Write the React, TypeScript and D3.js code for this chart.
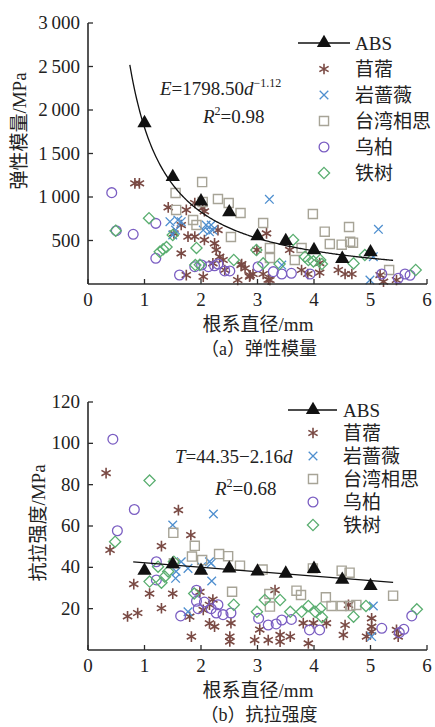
import React from "react";
import * as d3 from "d3";

// ticks / labels
const xTicks = [0, 1, 2, 3, 4, 5, 6];
const yTicksA = [500, 1000, 1500, 2000, 2500, 3000];
const yTicksB = [20, 40, 60, 80, 100, 120];
const legendNames = ["ABS", "苜蓿", "岩蔷薇", "台湾相思", "乌柏", "铁树"];

// (a) 弹性模量  [直径 mm, MPa]
const absA = [[1, 1850], [1.5, 1230], [2, 950], [2.5, 825], [3, 550], [3.5, 495], [4, 390], [4.5, 290], [5, 365]];
const muxuA = [[0.83, 1157], [0.91, 1157], [1.42, 881], [1.74, 851], [1.89, 931], [2.03, 874], [2.06, 836], [1.65, 678], [1.52, 582], [1.77, 544], [1.89, 544], [2.3, 620], [2.24, 467], [2.06, 506], [2.27, 391], [2.33, 314], [2.39, 276], [1.65, 352], [1.74, 103], [2.04, 84], [2.21, 237], [2.42, 161], [2.71, 218], [2.65, 46], [2.86, 84], [3.16, 582], [3.57, 391], [2.99, 391], [2.92, 115], [3.1, 115], [3.22, 46], [3.78, 161], [3.89, 115], [4.1, 241], [4.1, 130], [4.43, 161], [4.55, 115], [4.67, 115], [5.17, 103], [5.23, 27], [5.46, 46], [2.72, 230], [2.78, 180], [2.87, 100], [3.19, 50]];
const yanA = [[3.21, 973], [5.14, 628], [5.05, 314], [4.99, 46], [3.43, 218], [1.45, 716], [1.59, 735], [1.65, 716], [1.55, 620], [1.5, 563], [2.04, 620], [2.09, 678], [2.18, 678], [2.21, 620], [2.15, 600]];
const taiwanA = [[1.55, 1046], [1.56, 851], [2.02, 1172], [2.03, 942], [2.3, 977], [2.49, 931], [2.7, 816], [1.86, 736], [1.92, 678], [2.53, 540], [3.1, 701], [3.22, 414], [3.22, 299], [3.66, 276], [3.78, 414], [3.98, 805], [4.19, 601], [4.62, 655], [4.28, 460], [4.49, 452], [4.64, 486], [4.69, 475], [5.33, 161]];
const wujiuA = [[0.42, 1050], [0.5, 613], [0.8, 571], [1.2, 697], [1.2, 295], [1.62, 103], [1.89, 199], [2.01, 218], [2.13, 199], [2.24, 210], [2.3, 230], [2.42, 150], [2.51, 150], [3.01, 199], [3.28, 142], [3.43, 115], [3.6, 123], [3.93, 115], [5.2, 115], [5.49, 65], [5.61, 115], [5.7, 100]];
const tieshuA = [[0.49, 613], [1.08, 756], [1.27, 370], [1.33, 400], [1.39, 425], [1.5, 563], [1.92, 414], [1.9, 218], [1.98, 220], [2.58, 276], [2.98, 390], [3.1, 237], [3.39, 230], [3.63, 506], [3.84, 314], [3.9, 276], [3.99, 260], [4.11, 276], [4.14, 230], [4.7, 237], [4.9, 333], [5.8, 161]];

// (b) 抗拉强度
const absB = [[1, 38.4], [1.5, 41.5], [2, 38.4], [2.5, 39.5], [3, 38], [3.5, 37], [4, 39.3], [4.5, 34], [5, 31]];
const muxuB = [[0.32, 85.6], [0.39, 48.4], [1.6, 67.7], [1.82, 55.6], [1.3, 50.3], [0.81, 31.9], [1.09, 27.3], [1.5, 27.3], [1.3, 20.2], [0.7, 16.3], [0.88, 17.9], [1.83, 6.5], [1.8, 16.1], [1.98, 28.1], [2.04, 19.4], [2.15, 21.9], [2.21, 24.4], [2.15, 12.9], [2.24, 11.3], [2.53, 13], [2.51, 6.5], [2.51, 4.1], [3.31, 29], [3.04, 9.9], [2.95, 4.8], [3.19, 4.8], [3.4, 7.3], [3.4, 4.0], [3.58, 6.5], [3.9, 3.2], [3.81, 13], [3.99, 13], [4.22, 13], [4.55, 12.1], [4.52, 7.3], [4.61, 21.8], [5.02, 15.3], [5.02, 11.3], [5.02, 8.9], [4.93, 6.5], [5.46, 9.7], [5.49, 6.5]];
const yanB = [[1.5, 60.5], [2.22, 65.8], [1.65, 42.7], [1.77, 39.5], [1.56, 38], [1.55, 34.7], [2.01, 40.3], [2.15, 42.7], [2.18, 42], [2.19, 33.4], [1.77, 18.5], [5.05, 21.3], [5.02, 6.5]];
const taiwanB = [[1.51, 56.7], [1.52, 42], [1.89, 50.4], [1.84, 45.2], [2.02, 43.5], [2.32, 46.4], [2.48, 45.4], [2.69, 40.8], [2.55, 28.2], [3.09, 38.9], [3.98, 39.5], [4.49, 38.4], [4.63, 37.4], [5.4, 26.3], [3.69, 28.7], [3.77, 26.6], [3.21, 27.1], [3.22, 21], [4.21, 25.5], [4.31, 21.3], [4.49, 21.3], [4.64, 21.3], [4.75, 21.8]];
const wujiuB = [[0.44, 102], [0.82, 68], [0.52, 57.7], [1.21, 42.7], [1.21, 33.9], [1.64, 16.5], [1.92, 28.9], [1.92, 23.6], [1.95, 20], [2.06, 23.2], [2.18, 20], [2.3, 21.9], [2.27, 17.9], [2.39, 17.1], [2.53, 17.9], [3.02, 15.3], [3.19, 12.1], [3.33, 12.6], [3.43, 14.5], [3.6, 14.8], [3.92, 9.7], [4.1, 9.7], [5.2, 10.5], [5.51, 8.4], [5.59, 10], [5.73, 16.5]];
const tieshuB = [[1.09, 82], [0.48, 52.4], [1.24, 40.3], [1.42, 38], [1.36, 35.5], [1.09, 33.1], [1.3, 32.6], [1.52, 42.7], [1.88, 27.3], [2.58, 21.9], [2.99, 18.5], [3.13, 24.2], [3.4, 24.2], [3.58, 18.5], [3.78, 18.5], [3.9, 21.3], [4.02, 18.5], [4.11, 20.1], [4.14, 15.9], [4.7, 16.1], [4.92, 21.3], [5.82, 19.7]];

// fitted equations shown on the chart
const fitA = { coef: 1798.5, pow: -1.12, from: 0.74, to: 5.4 };
const fitB = { a: 44.35, b: -2.16, from: 0.8, to: 5.4 };

const FONT = "'Liberation Serif', 'Times New Roman', 'Noto Sans CJK SC', serif";
const AXIS = "#2b2b2b";

// marker styles per species (same order as legendNames minus ABS)
const styles = [
  { color: "#7a4a44", type: d3.symbolAsterisk, size: 80, sw: 1.6 },
  { color: "#4f8fcf", type: d3.symbolTimes, size: 50, sw: 1.3 },
  { color: "#a7a497", type: d3.symbolSquare2, size: 105, sw: 1.4 },
  { color: "#7a5dc2", type: d3.symbolCircle, size: 75, sw: 1.3 },
  { color: "#5aae70", type: d3.symbolDiamond2, size: 80, sw: 1.3 },
];
const triPath = d3.symbol(d3.symbolTriangle, 88)();

function Marker({ i, x, y }) {
  const s = styles[i];
  return (
    <path
      d={d3.symbol(s.type, s.size)()}
      transform={`translate(${x},${y})`}
      fill="none"
      stroke={s.color}
      strokeWidth={s.sw}
    />
  );
}

function Panel({ top, bottom, yMax, yTicks, yFmt, series, abs, fitPts, leg, yTitle, yTitleX, yTitleY, caption, children }) {
  const x = d3.scaleLinear().domain([0, 6]).range([88, 427]);
  const y = d3.scaleLinear().domain([0, yMax]).range([bottom, top]);
  const line = d3.line().x((d) => x(d[0])).y((d) => y(d[1]));
  return (
    <g>
      {series.map((pts, i) =>
        pts.map((p, j) => <Marker key={i + "-" + j} i={i} x={x(p[0])} y={y(p[1])} />)
      )}
      <path d={line(fitPts)} fill="none" stroke="#111" strokeWidth={1.3} />
      {abs.map((p, j) => (
        <path key={j} d={triPath} transform={`translate(${x(p[0])},${y(p[1])})`} fill="#111" />
      ))}
      {/* axes */}
      <line x1={x(0)} x2={x(6)} y1={bottom} y2={bottom} stroke={AXIS} strokeWidth={1.6} />
      <line x1={x(0)} x2={x(0)} y1={bottom} y2={y(yMax)} stroke={AXIS} strokeWidth={1.6} />
      {xTicks.map((t) => (
        <g key={t}>
          <line x1={x(t)} x2={x(t)} y1={bottom} y2={bottom - 5} stroke={AXIS} strokeWidth={1.3} />
          <text x={x(t)} y={bottom + 22} textAnchor="middle" fontSize={19} fill="#222">{t}</text>
        </g>
      ))}
      {yTicks.map((t) => (
        <g key={t}>
          <line x1={x(0)} x2={x(0) + 5} y1={y(t)} y2={y(t)} stroke={AXIS} strokeWidth={1.3} />
          <text x={80} y={y(t) + 6} textAnchor="end" fontSize={19} fill="#222">{yFmt(t)}</text>
        </g>
      ))}
      <text x={258} y={bottom + 47} textAnchor="middle" fontSize={19} fill="#222">根系直径/mm</text>
      <text x={259} y={bottom + 71} textAnchor="middle" fontSize={18} fill="#222">{caption}</text>
      <text
        transform={`translate(${yTitleX},${yTitleY}) rotate(-90)`}
        textAnchor="middle"
        dominantBaseline="central"
        fontSize={19}
        fill="#222"
      >{yTitle}</text>
      {/* legend */}
      {legendNames.map((name, i) => {
        const ly = leg.y0 + i * leg.dy;
        return (
          <g key={name}>
            {i === 0 ? (
              <g>
                <line x1={leg.lx1} x2={leg.lx2} y1={ly} y2={ly} stroke="#111" strokeWidth={1.3} />
                <path d={triPath} transform={`translate(${leg.mx},${ly})`} fill="#111" />
              </g>
            ) : (
              <Marker i={i - 1} x={leg.mx} y={ly} />
            )}
            <text x={leg.tx} y={ly + 6.5} fontSize={19} fill="#222">{name}</text>
          </g>
        );
      })}
      {children}
    </g>
  );
}

export default function App() {
  const fitPtsA = d3.range(fitA.from, fitA.to + 0.001, 0.02).map((d) => [d, fitA.coef * Math.pow(d, fitA.pow)]);
  const fitPtsB = [fitB.from, fitB.to].map((d) => [d, fitB.a + fitB.b * d]);
  const fmtA = (v) => d3.format(",")(v).replace(",", "\u2009");
  return (
    <svg width={435} height={727} style={{ position: "absolute", left: 0, top: 0, background: "#fff" }} fontFamily={FONT}>
      <Panel
        top={23}
        bottom={284}
        yMax={3000}
        yTicks={yTicksA}
        yFmt={fmtA}
        series={[muxuA, yanA, taiwanA, wujiuA, tieshuA]}
        abs={absA}
        fitPts={fitPtsA}
        leg={{ y0: 43, dy: 26, lx1: 298, lx2: 350, mx: 324, tx: 355 }}
        yTitle="弹性模量/MPa"
        yTitleX={19}
        yTitleY={131}
        caption="（a）弹性模量"
      >
        <text x={160} y={95} fontSize={19} fill="#222">
          <tspan fontStyle="italic">E</tspan>=1798.50<tspan fontStyle="italic">d</tspan>
          <tspan fontSize={12} dy={-8}>−1.12</tspan>
        </text>
        <text x={203} y={123} fontSize={19} fill="#222">
          <tspan fontStyle="italic">R</tspan>
          <tspan fontSize={12} dy={-8}>2</tspan>
          <tspan dy={8}>=0.98</tspan>
        </text>
      </Panel>
      <Panel
        top={402}
        bottom={650}
        yMax={120}
        yTicks={yTicksB}
        yFmt={(v) => String(v)}
        series={[muxuB, yanB, taiwanB, wujiuB, tieshuB]}
        abs={absB}
        fitPts={fitPtsB}
        leg={{ y0: 410, dy: 23, lx1: 288, lx2: 337, mx: 313, tx: 343 }}
        yTitle="抗拉强度/MPa"
        yTitleX={38}
        yTitleY={523}
        caption="（b）抗拉强度"
      >
        <text x={175} y={463} fontSize={19} fill="#222">
          <tspan fontStyle="italic">T</tspan>=44.35−2.16<tspan fontStyle="italic">d</tspan>
        </text>
        <text x={215} y={495} fontSize={19} fill="#222">
          <tspan fontStyle="italic">R</tspan>
          <tspan fontSize={12} dy={-8}>2</tspan>
          <tspan dy={8}>=0.68</tspan>
        </text>
      </Panel>
    </svg>
  );
}
